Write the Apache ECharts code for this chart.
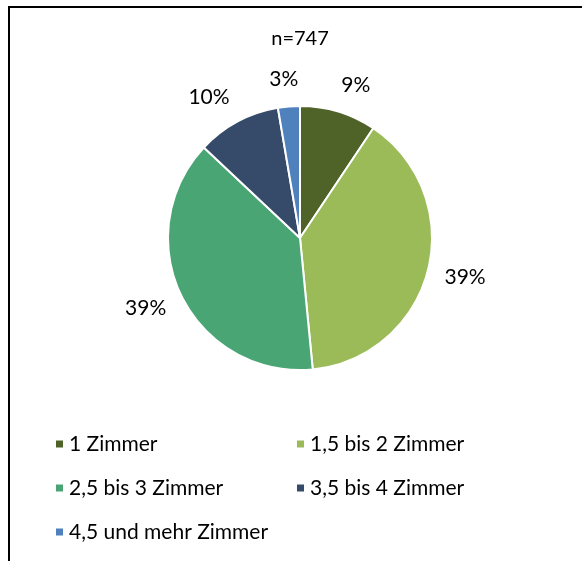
<!DOCTYPE html>
<html>
<head>
<meta charset="utf-8">
<script src="https://cdn.jsdelivr.net/npm/echarts@6/dist/echarts.min.js"></script>
<style>
  html, body { margin: 0; padding: 0; background: #fff; }
  #chart { width: 582px; height: 561px; }
</style>
</head>
<body>
<div id="chart"></div>
<script>
// Anzahl Zimmer, n=747
const categories = ['1 Zimmer', '1,5 bis 2 Zimmer', '2,5 bis 3 Zimmer', '3,5 bis 4 Zimmer', '4,5 und mehr Zimmer'];
const counts = [70, 292, 288, 77, 20];
const colors = ['#4f6228', '#9bbb59', '#4aa574', '#364b6a', '#4f81bd'];
const totalLabel = 'n=747';

const myChart = echarts.init(document.getElementById('chart'));
const fontFamily = 'Lato, "Noto Sans", sans-serif';
const pieCenter = [300, 238];
const pieRadius = 132;

// Mittelwinkel jedes Segments (im Uhrzeigersinn ab 12 Uhr)
const total = counts.reduce(function (a, b) { return a + b; }, 0);
let acc = 0;
const midAngles = counts.map(function (v) {
    const mid = (acc + v / 2) / total * Math.PI * 2;
    acc += v;
    return mid;
});

// Beschriftung ausserhalb, aehnlich wie Excel "Am Ende ausserhalb"
function placeLabel(params) {
    const a = midAngles[params.dataIndex];
    const s = Math.sin(a);
    const c = Math.cos(a);
    const d = pieRadius + 17;
    const w = params.labelRect.width;
    const h = params.labelRect.height;
    const kx = Math.max(-1, Math.min(1, s * 3));
    return {
        x: pieCenter[0] + d * s + kx * w / 2,
        y: pieCenter[1] - d * c - c * h / 2,
        align: 'center',
        verticalAlign: 'middle'
    };
}

const option = {
    animation: false,
    color: colors,
    textStyle: { fontFamily: fontFamily },
    title: {
        text: totalLabel,
        left: 300,
        textAlign: 'center',
        top: 29,
        padding: 0,
        textStyle: { fontSize: 20, fontWeight: 'normal', color: '#000', fontFamily: fontFamily }
    },
    graphic: [
        {
            // Rahmen
            type: 'polyline',
            shape: { points: [[9, 561], [9, 7], [582, 7]] },
            style: { stroke: '#000', lineWidth: 2, fill: null }
        }
    ],
    legend: {
        left: 54,
        top: 427,
        padding: 0,
        width: 520,
        icon: 'rect',
        itemWidth: 9,
        itemHeight: 9,
        itemGap: 10,
        textStyle: {
            fontSize: 21,
            color: '#000',
            width: 216,
            lineHeight: 34,
            fontFamily: fontFamily
        },
        data: categories
    },
    series: [
        {
            type: 'pie',
            center: pieCenter,
            radius: pieRadius,
            startAngle: 90,
            clockwise: true,
            percentPrecision: 0,
            itemStyle: { borderColor: '#fff', borderWidth: 2 },
            label: {
                show: true,
                position: 'outside',
                formatter: '{d}%',
                fontSize: 21,
                color: '#000',
                fontFamily: fontFamily
            },
            labelLine: { show: false },
            labelLayout: placeLabel,
            emphasis: { disabled: true },
            data: categories.map(function (name, i) {
                return { name: name, value: counts[i] };
            })
        }
    ]
};

myChart.setOption(option);
</script>
</body>
</html>
